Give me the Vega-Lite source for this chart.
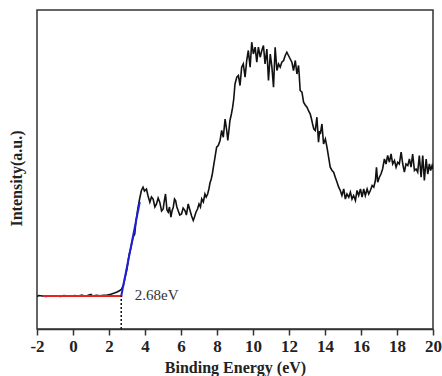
{
  "$schema": "https://vega.github.io/schema/vega-lite/v6.json",
  "width": 396,
  "height": 319,
  "autosize": {"type": "none"},
  "padding": {"left": 37, "top": 10, "right": 9, "bottom": 47},
  "background": "white",
  "config": {
    "view": {"stroke": "#333", "strokeWidth": 1.5},
    "font": "Liberation Serif",
    "axisX": {
      "values": [-2, -1, 0, 1, 2, 3, 4, 5, 6, 7, 8, 9, 10, 11, 12, 13, 14, 15, 16, 17, 18, 19, 20],
      "labelExpr": "datum.value % 2 === 0 ? toString(datum.value) : ''",
      "labelFont": "Liberation Serif", "labelFontSize": 17, "labelFontWeight": "bold", "labelColor": "#222",
      "labelFlush": false, "labelOverlap": false, "labelPadding": 3, "labelBound": false,
      "tickSize": {"condition": {"test": "datum.value % 2 === 0", "value": 6}, "value": 3},
      "tickColor": "#333", "tickWidth": 1.5,
      "domainColor": "#333", "domainWidth": 1.5,
      "titleFont": "Liberation Serif", "titleFontSize": 16, "titleFontWeight": "bold", "titleColor": "#222",
      "titlePadding": 5,
      "grid": false
    },
    "axisY": {
      "titleFont": "Liberation Serif", "titleFontSize": 16, "titleFontWeight": "bold", "titleColor": "#222",
      "titleY": 168, "titleX": -13,
      "labels": false, "ticks": false, "domain": false, "grid": false
    }
  },
  "datasets": {
    "spec": [
      {"e": -2.0, "i": 32.5}, {"e": -1.9, "i": 33.5}, {"e": -1.7, "i": 33}, {"e": -1.5, "i": 32.5}, {"e": -1.3, "i": 33},
      {"e": -1.1, "i": 32.8}, {"e": -0.9, "i": 33.2}, {"e": -0.7, "i": 32.6}, {"e": -0.5, "i": 33.4}, {"e": -0.3, "i": 33},
      {"e": -0.1, "i": 32.7}, {"e": 0.1, "i": 33.5}, {"e": 0.3, "i": 33}, {"e": 0.5, "i": 34}, {"e": 0.6, "i": 33},
      {"e": 0.8, "i": 33.5}, {"e": 1.0, "i": 34.5}, {"e": 1.1, "i": 33}, {"e": 1.3, "i": 33.8}, {"e": 1.5, "i": 33.2},
      {"e": 1.7, "i": 33.6}, {"e": 1.9, "i": 34}, {"e": 2.1, "i": 34.8}, {"e": 2.3, "i": 36}, {"e": 2.45, "i": 37},
      {"e": 2.6, "i": 38.5}, {"e": 2.7, "i": 40}, {"e": 2.8, "i": 44}, {"e": 2.9, "i": 52}, {"e": 3.0, "i": 60},
      {"e": 3.11, "i": 73.5}, {"e": 3.2, "i": 80}, {"e": 3.34, "i": 91.8}, {"e": 3.43, "i": 95}, {"e": 3.5, "i": 108},
      {"e": 3.6, "i": 120}, {"e": 3.7, "i": 130}, {"e": 3.8, "i": 138.5}, {"e": 3.89, "i": 141.8}, {"e": 3.97, "i": 138},
      {"e": 4.08, "i": 140}, {"e": 4.17, "i": 133}, {"e": 4.27, "i": 126.8}, {"e": 4.36, "i": 132}, {"e": 4.45, "i": 130},
      {"e": 4.55, "i": 122}, {"e": 4.64, "i": 125}, {"e": 4.73, "i": 131}, {"e": 4.82, "i": 126.8}, {"e": 4.92, "i": 118},
      {"e": 5.01, "i": 120}, {"e": 5.07, "i": 128}, {"e": 5.14, "i": 135}, {"e": 5.22, "i": 119}, {"e": 5.29, "i": 116.8},
      {"e": 5.36, "i": 122}, {"e": 5.44, "i": 111.8}, {"e": 5.5, "i": 118}, {"e": 5.57, "i": 121.8}, {"e": 5.64, "i": 130},
      {"e": 5.7, "i": 128.5}, {"e": 5.77, "i": 122}, {"e": 5.84, "i": 118.5}, {"e": 5.93, "i": 114}, {"e": 6.03, "i": 115},
      {"e": 6.12, "i": 121}, {"e": 6.22, "i": 118.5}, {"e": 6.3, "i": 114}, {"e": 6.4, "i": 125}, {"e": 6.5, "i": 118.5},
      {"e": 6.59, "i": 113}, {"e": 6.68, "i": 108.5}, {"e": 6.75, "i": 112}, {"e": 6.83, "i": 116.8}, {"e": 6.92, "i": 120},
      {"e": 7.0, "i": 125}, {"e": 7.08, "i": 122}, {"e": 7.15, "i": 130}, {"e": 7.24, "i": 127}, {"e": 7.33, "i": 135},
      {"e": 7.4, "i": 132}, {"e": 7.48, "i": 135}, {"e": 7.55, "i": 140}, {"e": 7.61, "i": 146}, {"e": 7.68, "i": 150},
      {"e": 7.74, "i": 155}, {"e": 7.8, "i": 161.8}, {"e": 7.89, "i": 171.8}, {"e": 7.98, "i": 181.8}, {"e": 8.07, "i": 183.5},
      {"e": 8.17, "i": 188.5}, {"e": 8.26, "i": 198.5}, {"e": 8.35, "i": 191.8}, {"e": 8.45, "i": 210}, {"e": 8.54, "i": 198.5},
      {"e": 8.6, "i": 188.5}, {"e": 8.67, "i": 200}, {"e": 8.72, "i": 208.5}, {"e": 8.8, "i": 215}, {"e": 8.87, "i": 221.8},
      {"e": 8.93, "i": 230}, {"e": 9.0, "i": 245}, {"e": 9.1, "i": 251.8}, {"e": 9.19, "i": 253.5}, {"e": 9.28, "i": 243.5},
      {"e": 9.37, "i": 261.8}, {"e": 9.46, "i": 265}, {"e": 9.56, "i": 251.8}, {"e": 9.65, "i": 268.5}, {"e": 9.74, "i": 278.5},
      {"e": 9.84, "i": 261.8}, {"e": 9.93, "i": 286.8}, {"e": 10.02, "i": 275}, {"e": 10.12, "i": 281.8}, {"e": 10.21, "i": 266.8},
      {"e": 10.3, "i": 281.8}, {"e": 10.4, "i": 271.8}, {"e": 10.49, "i": 278.5}, {"e": 10.58, "i": 283.5}, {"e": 10.67, "i": 265},
      {"e": 10.77, "i": 280}, {"e": 10.86, "i": 248.5}, {"e": 10.96, "i": 275}, {"e": 11.05, "i": 261.8}, {"e": 11.14, "i": 241.8},
      {"e": 11.23, "i": 281.8}, {"e": 11.33, "i": 258.5}, {"e": 11.42, "i": 265}, {"e": 11.51, "i": 261.8}, {"e": 11.6, "i": 266.8},
      {"e": 11.7, "i": 268.5}, {"e": 11.79, "i": 273.5}, {"e": 11.88, "i": 276.8}, {"e": 11.97, "i": 273.5}, {"e": 12.07, "i": 270},
      {"e": 12.16, "i": 266.8}, {"e": 12.25, "i": 258.5}, {"e": 12.35, "i": 268.5}, {"e": 12.44, "i": 255}, {"e": 12.53, "i": 263.5},
      {"e": 12.57, "i": 253.5}, {"e": 12.62, "i": 238.5}, {"e": 12.72, "i": 236.8}, {"e": 12.81, "i": 226.8}, {"e": 12.9, "i": 224},
      {"e": 13.0, "i": 221.8}, {"e": 13.09, "i": 218}, {"e": 13.18, "i": 215}, {"e": 13.25, "i": 210}, {"e": 13.31, "i": 205},
      {"e": 13.38, "i": 200}, {"e": 13.46, "i": 198.5}, {"e": 13.55, "i": 211.8}, {"e": 13.64, "i": 186.8}, {"e": 13.7, "i": 198},
      {"e": 13.74, "i": 195}, {"e": 13.83, "i": 205}, {"e": 13.92, "i": 185}, {"e": 14.02, "i": 190}, {"e": 14.11, "i": 181.8},
      {"e": 14.2, "i": 171.8}, {"e": 14.29, "i": 161.8}, {"e": 14.39, "i": 158.5}, {"e": 14.48, "i": 156.8}, {"e": 14.57, "i": 151.8},
      {"e": 14.67, "i": 146.8}, {"e": 14.76, "i": 141.8}, {"e": 14.85, "i": 138.5}, {"e": 14.94, "i": 133.5}, {"e": 15.04, "i": 140},
      {"e": 15.13, "i": 130}, {"e": 15.22, "i": 135}, {"e": 15.32, "i": 131.8}, {"e": 15.41, "i": 136.8}, {"e": 15.5, "i": 130},
      {"e": 15.59, "i": 133.5}, {"e": 15.69, "i": 128.5}, {"e": 15.78, "i": 138.5}, {"e": 15.87, "i": 133.5}, {"e": 15.97, "i": 140},
      {"e": 16.06, "i": 131.8}, {"e": 16.15, "i": 140}, {"e": 16.24, "i": 133.5}, {"e": 16.34, "i": 140}, {"e": 16.43, "i": 135},
      {"e": 16.52, "i": 138.5}, {"e": 16.62, "i": 143.5}, {"e": 16.71, "i": 141.8}, {"e": 16.8, "i": 148.5}, {"e": 16.86, "i": 161.8},
      {"e": 16.93, "i": 146.8}, {"e": 17.02, "i": 151.8}, {"e": 17.11, "i": 155}, {"e": 17.2, "i": 160}, {"e": 17.3, "i": 170},
      {"e": 17.39, "i": 165}, {"e": 17.48, "i": 173.5}, {"e": 17.58, "i": 166.8}, {"e": 17.67, "i": 175}, {"e": 17.76, "i": 165},
      {"e": 17.86, "i": 168.5}, {"e": 17.95, "i": 161.8}, {"e": 18.04, "i": 166.8}, {"e": 18.13, "i": 165}, {"e": 18.23, "i": 176.8},
      {"e": 18.32, "i": 165}, {"e": 18.41, "i": 156.8}, {"e": 18.5, "i": 165}, {"e": 18.6, "i": 163.5}, {"e": 18.69, "i": 170},
      {"e": 18.78, "i": 161.8}, {"e": 18.87, "i": 175}, {"e": 18.97, "i": 158.5}, {"e": 19.06, "i": 160}, {"e": 19.15, "i": 156.8},
      {"e": 19.24, "i": 173.5}, {"e": 19.34, "i": 151.8}, {"e": 19.43, "i": 173.5}, {"e": 19.52, "i": 148.5}, {"e": 19.62, "i": 170},
      {"e": 19.71, "i": 155}, {"e": 19.8, "i": 165}, {"e": 19.87, "i": 158.5}, {"e": 19.95, "i": 163.5}, {"e": 20.0, "i": 160}
    ],
    "baseline": [{"e": -1.67, "i": 33}, {"e": 2.74, "i": 33}],
    "edge": [{"e": 2.68, "i": 33}, {"e": 3.71, "i": 127}],
    "cut": [{"e": 2.68, "i0": 0, "i1": 33}],
    "note": [{"e": 3.43, "i": 34.5, "label": "2.68eV"}]
  },
  "layer": [
    {
      "data": {"name": "spec"},
      "mark": {"type": "line", "color": "#111", "strokeWidth": 1.6, "clip": true},
      "encoding": {
        "x": {
          "field": "e", "type": "quantitative",
          "scale": {"domain": [-2, 20], "nice": false, "zero": false},
          "axis": {"title": "Binding Energy (eV)", "orient": "bottom"}
        },
        "y": {
          "field": "i", "type": "quantitative",
          "scale": {"domain": [0, 319], "nice": false, "zero": false},
          "axis": {"title": "Intensity(a.u.)"}
        }
      }
    },
    {
      "data": {"name": "baseline"},
      "mark": {"type": "line", "color": "#e8231f", "strokeWidth": 2.2},
      "encoding": {
        "x": {"field": "e", "type": "quantitative"},
        "y": {"field": "i", "type": "quantitative"}
      }
    },
    {
      "data": {"name": "edge"},
      "mark": {"type": "line", "color": "#1f1fd6", "strokeWidth": 2},
      "encoding": {
        "x": {"field": "e", "type": "quantitative"},
        "y": {"field": "i", "type": "quantitative"}
      }
    },
    {
      "data": {"name": "cut"},
      "mark": {"type": "rule", "color": "#111", "strokeWidth": 1.5, "strokeDash": [2, 2]},
      "encoding": {
        "x": {"field": "e", "type": "quantitative"},
        "y": {"field": "i0", "type": "quantitative"},
        "y2": {"field": "i1"}
      }
    },
    {
      "data": {"name": "note"},
      "mark": {"type": "text", "align": "left", "baseline": "middle", "font": "Liberation Serif", "fontSize": 15, "color": "#333"},
      "encoding": {
        "x": {"field": "e", "type": "quantitative"},
        "y": {"field": "i", "type": "quantitative"},
        "text": {"field": "label"}
      }
    }
  ]
}
